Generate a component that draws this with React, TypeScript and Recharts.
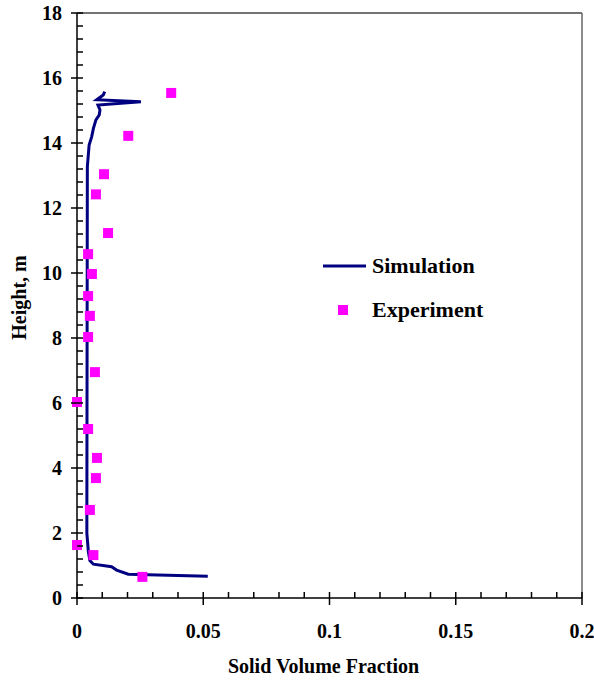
import { ComposedChart, Scatter, XAxis, YAxis, ReferenceLine, Legend } from "recharts";

// simulation profile (solid volume fraction vs height)
const simFraction = [
  0.0518, 0.0203, 0.0157, 0.0137, 0.0065, 0.0051, 0.0045, 0.0039, 0.004, 0.0041,
  0.0048, 0.0058, 0.0065, 0.0075, 0.0088, 0.0091, 0.0083, 0.0253, 0.0078, 0.0104, 0.011,
];
const simHeight = [
  0.67, 0.73, 0.86, 0.96, 1.04, 1.15, 1.42, 2.0, 8.0, 13.27,
  13.94, 14.19, 14.45, 14.71, 14.86, 15.02, 15.17, 15.27, 15.33, 15.48, 15.58,
];

// experimental points
const expFraction = [
  0.0373, 0.0203, 0.0107, 0.0075, 0.0123, 0.0044, 0.0059, 0.0044, 0.0051, 0.0044,
  0.0071, 0, 0.0044, 0.0079, 0.0075, 0.0051, 0, 0.0065, 0.0259,
];
const expHeight = [
  15.54, 14.22, 13.04, 12.42, 11.23, 10.58, 9.97, 9.29, 8.68, 8.03,
  6.95, 6.03, 5.2, 4.31, 3.69, 2.71, 1.63, 1.32, 0.65,
];

const xMajor = [0, 0.05, 0.1, 0.15, 0.2];
const yMajor = [0, 2, 4, 6, 8, 10, 12, 14, 16, 18];

const xTicks: number[] = [];
for (let i = 0; i <= 20; i++) xTicks.push(i / 100);
const yTicks: number[] = [];
for (let i = 0; i <= 45; i++) yTicks.push(Math.round(i * 4) / 10);

const simData = simFraction.map((x, i) => ({ x, h: simHeight[i] }));
const expData = expFraction.map((x, i) => ({ x, h: expHeight[i] }));

const FONT = "'Liberation Serif', 'Times New Roman', serif";
const NAVY = "#000080";
const MAGENTA = "#FF00FF";

const isMajor = (v: number, list: number[]) => list.some((m) => Math.abs(m - v) < 1e-9);

const XTick = (props: any) => {
  const { x, y, payload } = props;
  const major = isMajor(payload.value, xMajor);
  return (
    <g>
      <line x1={x} x2={x} y1={y - 6} y2={major ? y + 7 : y} stroke="#000" strokeWidth={1.5} />
      {major && (
        <text x={x} y={y + 40} textAnchor="middle" fontFamily={FONT} fontWeight="bold" fontSize={20} fill="#000">
          {String(Number(payload.value.toFixed(2)))}
        </text>
      )}
    </g>
  );
};

const YTick = (props: any) => {
  const { x, y, payload } = props;
  const major = isMajor(payload.value, yMajor);
  return (
    <g>
      <line x1={major ? x - 6 : x} x2={x + 6} y1={y} y2={y} stroke="#000" strokeWidth={1.5} />
      {major && (
        <text x={x - 15} y={y + 6.5} textAnchor="end" fontFamily={FONT} fontWeight="bold" fontSize={20} fill="#000">
          {payload.value}
        </text>
      )}
    </g>
  );
};

const SquareDot = (props: any) => {
  const { cx, cy } = props;
  return <rect x={cx - 5} y={cy - 5} width={10} height={10} fill={MAGENTA} />;
};

const LegendBox = () => (
  <div style={{ fontFamily: FONT, fontWeight: "bold", fontSize: 22, color: "#000", width: 220 }}>
    <div style={{ display: "flex", alignItems: "center", height: 30 }}>
      <svg width={50} height={10}>
        <line x1={1} x2={44} y1={5} y2={5} stroke={NAVY} strokeWidth={3} />
      </svg>
      <span>Simulation</span>
    </div>
    <div style={{ display: "flex", alignItems: "center", height: 30, marginTop: 14 }}>
      <svg width={50} height={12}>
        <rect x={16} y={1} width={10} height={10} fill={MAGENTA} />
      </svg>
      <span>Experiment</span>
    </div>
  </div>
);

export default function App() {
  return (
    <div style={{ position: "absolute", left: 0, top: 0, width: 594, height: 681, background: "#fff" }}>
      <ComposedChart width={594} height={681} margin={{ top: 13, right: 12, left: 0, bottom: 0 }}>
        <XAxis
          type="number"
          dataKey="x"
          domain={[0, 0.2]}
          ticks={xTicks}
          interval={0}
          tickSize={0}
          tickMargin={0}
          tickLine={false}
          tick={<XTick />}
          height={83}
          axisLine={{ stroke: "#000", strokeWidth: 1.5 }}
          label={{
            value: "Solid Volume Fraction",
            position: "insideBottom",
            offset: 8,
            dx: -6,
            style: { fontFamily: FONT, fontWeight: "bold", fontSize: 20, fill: "#000" },
          }}
        />
        <YAxis
          type="number"
          dataKey="h"
          domain={[0, 18]}
          ticks={yTicks}
          interval={0}
          tickSize={0}
          tickMargin={0}
          tickLine={false}
          tick={<YTick />}
          width={77}
          axisLine={{ stroke: "#000", strokeWidth: 1.5 }}
          label={{
            value: "Height, m",
            angle: -90,
            position: "insideLeft",
            offset: 19,
            dy: -8,
            style: { fontFamily: FONT, fontWeight: "bold", fontSize: 20, fill: "#000", textAnchor: "middle" },
          }}
        />
        <ReferenceLine y={18} stroke="#444" strokeWidth={1.5} />
        <ReferenceLine x={0.2} stroke="#666" strokeWidth={1.5} />
        <Legend
          layout="vertical"
          align="center"
          verticalAlign="middle"
          content={<LegendBox />}
          wrapperStyle={{ left: 322, top: 251, width: 240 }}
        />
        <Scatter
          name="Simulation"
          data={simData}
          line={{ stroke: NAVY, strokeWidth: 3 }}
          lineJointType="linear"
          shape={() => <g />}
          isAnimationActive={false}
        />
        <Scatter name="Experiment" data={expData} shape={<SquareDot />} isAnimationActive={false} />
      </ComposedChart>
    </div>
  );
}
